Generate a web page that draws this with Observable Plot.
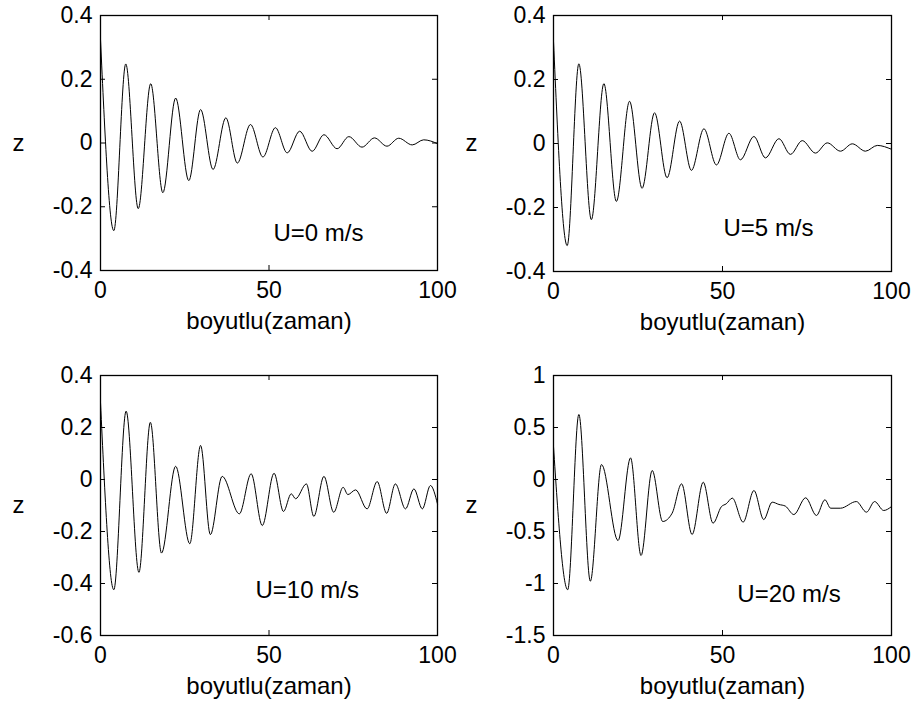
<!DOCTYPE html>
<html><head><meta charset="utf-8">
<script src="https://cdn.jsdelivr.net/npm/d3@7"></script>
<script src="https://cdn.jsdelivr.net/npm/@observablehq/plot@0.6"></script>
<style>
body{margin:0;background:#fff;}
#wrap{position:relative;width:917px;height:704px;overflow:hidden;}
#wrap svg{position:absolute;}
</style></head><body><div id="wrap"></div>
<script>
// ---- data ----
const xTicks = [0, 50, 100];
const xLabel = "boyutlu(zaman)";
const yLabel = "z";

// U = 0 m/s
const t0 = [0,3.95,7.5,11.2,14.9,18.5,22.3,26.2,29.7,33.4,37.2,40.6,44.5,48.2,51.9,55.4,59.1,62.8,66.3,70.2,73.7,77.6,81.3,85.0,88.5,92.5,95.9,100];
const z0 = [0.325,-0.275,0.248,-0.206,0.186,-0.156,0.141,-0.118,0.105,-0.083,0.079,-0.063,0.058,-0.044,0.048,-0.031,0.037,-0.026,0.026,-0.018,0.020,-0.013,0.016,-0.010,0.015,-0.006,0.010,-0.002];
const yTicks0 = [-0.4,-0.2,0,0.2,0.4];

// U = 5 m/s
const t5 = [0,4.05,7.5,11.2,14.9,18.6,22.5,26.2,29.9,33.6,37.3,40.8,44.5,48.2,51.9,55.3,59.3,62.7,66.7,70.1,73.6,77.5,81.0,84.9,88.4,92.3,95.8,100];
const z5 = [0.32,-0.319,0.249,-0.238,0.187,-0.181,0.132,-0.140,0.096,-0.107,0.070,-0.084,0.046,-0.067,0.032,-0.051,0.022,-0.045,0.015,-0.034,0.009,-0.030,0.002,-0.024,-0.001,-0.024,-0.006,-0.018];
const yTicks5 = [-0.4,-0.2,0,0.2,0.4];

// U = 10 m/s
const t10 = [0,3.95,7.6,11.4,14.8,18.1,22.3,26.5,29.7,32.6,36.1,41.2,44.7,48.0,51.5,54.3,56.6,57.9,61.1,63.3,66.3,69.2,72.0,73.4,75.7,79.1,82.1,84.9,87.5,90.5,93.0,95.5,97.9,100];
const z10 = [0.297,-0.424,0.263,-0.357,0.220,-0.283,0.051,-0.247,0.131,-0.212,0.012,-0.132,0.022,-0.177,0.024,-0.123,-0.055,-0.074,-0.017,-0.142,0.012,-0.126,-0.030,-0.058,-0.040,-0.113,-0.008,-0.130,-0.017,-0.113,-0.036,-0.113,-0.023,-0.094];
const yTicks10 = [-0.6,-0.4,-0.2,0,0.2,0.4];

// U = 20 m/s
const t20 = [0,4.2,7.5,10.9,14.2,19.1,22.8,25.9,29.2,32.3,35.1,37.9,41.0,44.3,47.2,49.7,51.1,52.9,56.1,59.3,62.2,64.7,66.7,68.6,71.1,74.6,77.8,80.3,82.0,84.9,89.6,92.6,95.0,97.7,100];
const z20 = [0.317,-1.06,0.625,-0.978,0.144,-0.587,0.208,-0.731,0.087,-0.404,-0.324,-0.042,-0.529,-0.026,-0.420,-0.260,-0.234,-0.179,-0.41,-0.106,-0.385,-0.218,-0.240,-0.256,-0.337,-0.176,-0.346,-0.195,-0.276,-0.276,-0.212,-0.314,-0.212,-0.298,-0.26];
const yTicks20 = [-1.5,-1,-0.5,0,0.5,1];

// annotations
const annText = ["U=0 m/s", "U=5 m/s", "U=10 m/s", "U=20 m/s"];
const annX = [51.3, 50.3, 46, 54.4];
const annY = [-0.306, -0.288, -0.454, -1.18];

// ---- layout ----
const panels = [
  {t:t0, z:z0, yTicks:yTicks0, ann:0, left:0,   top:0,   width:458, height:352, ml:100, mr:21, mt:15, mb:82},
  {t:t5, z:z5, yTicks:yTicks5, ann:1, left:458, top:0,   width:459, height:352, ml:95,  mr:26, mt:15, mb:81},
  {t:t10,z:z10,yTicks:yTicks10,ann:2, left:0,   top:352, width:458, height:352, ml:100, mr:21, mt:23, mb:69},
  {t:t20,z:z20,yTicks:yTicks20,ann:3, left:458, top:352, width:459, height:352, ml:95,  mr:26, mt:23, mb:69}
];

const FONT = "'Liberation Sans', Arial, Helvetica, sans-serif";
const FS_TICK = 23;
const FS_LABEL = 24;
const wrap = document.getElementById("wrap");

for (const p of panels) {
  const fw = p.width - p.ml - p.mr;
  const fh = p.height - p.mt - p.mb;
  const data = p.t.map((t, i) => ({t, z: p.z[i]}));
  const yDomain = [p.yTicks[0], p.yTicks[p.yTicks.length - 1]];
  const ann = [{x: annX[p.ann], y: annY[p.ann], s: annText[p.ann]}];
  const svg = Plot.plot({
    width: p.width, height: p.height,
    marginLeft: p.ml, marginRight: p.mr, marginTop: p.mt, marginBottom: p.mb,
    x: {domain: [0, 100]},
    y: {domain: yDomain},
    style: {fontFamily: FONT, fontSize: FS_TICK + "px", background: "white", color: "black", overflow: "visible"},
    marks: [
      Plot.lineY(data, {x: "t", y: "z", stroke: "black", strokeWidth: 1, curve: "monotone-x"}),
      Plot.tickY(p.yTicks, {insetRight: fw - 5, stroke: "black"}),
      Plot.tickY(p.yTicks, {insetLeft: fw - 5, stroke: "black"}),
      Plot.tickX(xTicks, {insetTop: fh - 5, stroke: "black"}),
      Plot.tickX(xTicks, {insetBottom: fh - 5, stroke: "black"}),
      Plot.frame({stroke: "black", strokeWidth: 1.3}),
      Plot.axisX(xTicks, {tickSize: 0, tickPadding: 11, fontSize: FS_TICK, label: null, tickFormat: d => String(d)}),
      Plot.axisY(p.yTicks, {tickSize: 0, tickPadding: 8, fontSize: FS_TICK, label: null, tickFormat: d => String(d)}),
      Plot.text([xLabel], {text: d => d, frameAnchor: "bottom", dy: 58, lineAnchor: "bottom", fontSize: FS_LABEL}),
      Plot.text([yLabel], {text: d => d, frameAnchor: "left", dx: -88, textAnchor: "start", fontSize: FS_LABEL}),
      Plot.text(ann, {x: "x", y: "y", text: "s", textAnchor: "start", lineAnchor: "bottom", fontSize: FS_LABEL})
    ]
  });
  svg.style.left = p.left + "px";
  svg.style.top = p.top + "px";
  wrap.appendChild(svg);
}
</script>
</body></html>
